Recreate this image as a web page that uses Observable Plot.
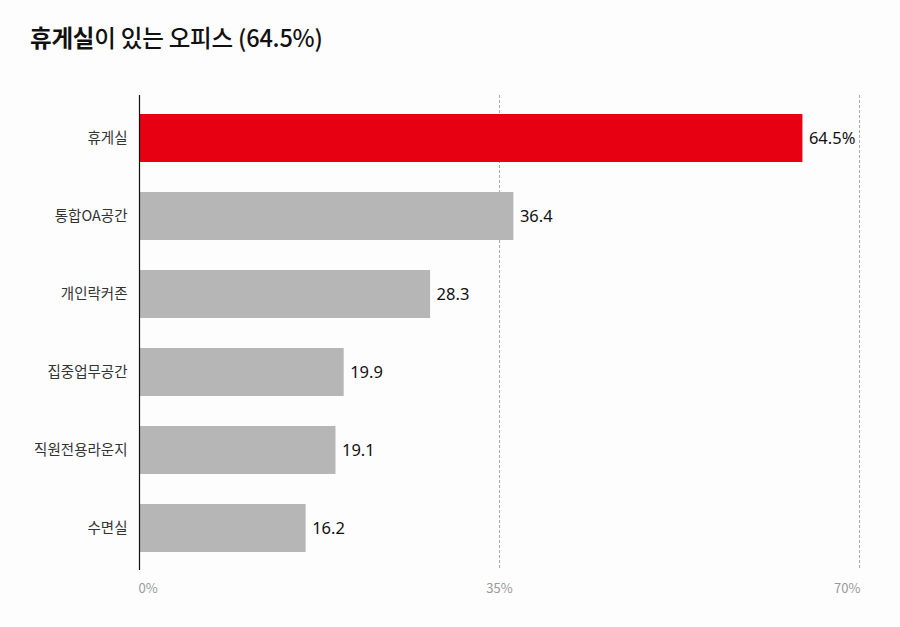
<!DOCTYPE html>
<html>
<head>
<meta charset="utf-8">
<script src="https://cdn.jsdelivr.net/npm/d3@7"></script>
<script src="https://cdn.jsdelivr.net/npm/@observablehq/plot@0.6"></script>
<style>
  html, body { margin: 0; padding: 0; background: #fdfdfd; }
  body { width: 900px; height: 627px; overflow: hidden; font-family: "Noto Sans CJK KR", "Noto Sans", sans-serif; }
  #title { position: absolute; left: 30px; top: 22px; font-size: 23.5px; color: #111; letter-spacing: -0.2px; line-height: 1.3; }
  #title b { font-weight: 700; }
  #title span { font-weight: 500; }
  #chart { position: absolute; left: 0; top: 75px; }
</style>
</head>
<body>
<div id="title"><b>휴게실</b><span>이 있는 오피스 (64.5%)</span></div>
<div id="chart"></div>
<script>
const categories = ["휴게실", "통합OA공간", "개인락커존", "집중업무공간", "직원전용라운지", "수면실"];
const values = [64.5, 36.4, 28.3, 19.9, 19.1, 16.2];
const valueLabels = ["64.5%", "36.4", "28.3", "19.9", "19.1", "16.2"];
const highlight = "휴게실";
const tickValues = [0, 35, 70];
const tickLabels = ["0%", "35%", "70%"];

const data = categories.map((c, i) => ({ category: c, value: values[i], label: valueLabels[i] }));

const chart = Plot.plot({
  width: 900,
  height: 552,
  marginTop: 24,
  marginBottom: 60,
  marginLeft: 139,
  marginRight: 41,
  style: { background: "transparent", fontFamily: "'Noto Sans CJK KR', 'Noto Sans', sans-serif" },
  x: { domain: [0, 70], axis: null },
  y: { domain: categories, paddingInner: 0.385, paddingOuter: 0.1925, label: null },
  marks: [
    Plot.ruleX(tickValues.slice(1), { stroke: "#aaa", strokeDasharray: "3,2", strokeWidth: 1, insetTop: -4, insetBottom: -3 }),
    Plot.barX(data, {
      x: "value", y: "category",
      fill: d => d.category === highlight ? "#e60012" : "#b5b6b5"
    }),
    Plot.ruleX([0], { stroke: "#111", strokeWidth: 1.2, insetTop: -4, insetBottom: -3 }),
    Plot.text(data, {
      x: "value", y: "category", text: "label",
      textAnchor: "start", dx: 6, fontSize: 16.5, fill: "#111",
      fontFamily: "'Noto Sans', sans-serif"
    }),
    Plot.axisY({ tickSize: 0, tickPadding: 12, fontSize: 14.5, color: "#333", label: null }),
    Plot.text([tickValues[0]], { x: d => d, text: [tickLabels[0]], frameAnchor: "bottom", dy: 25, textAnchor: "start", fill: "#999", fontSize: 13, dx: -1 }),
    Plot.text([tickValues[1]], { x: d => d, text: [tickLabels[1]], frameAnchor: "bottom", dy: 25, textAnchor: "middle", fill: "#999", fontSize: 13 }),
    Plot.text([tickValues[2]], { x: d => d, text: [tickLabels[2]], frameAnchor: "bottom", dy: 25, textAnchor: "end", fill: "#999", fontSize: 13, dx: 1 })
  ]
});
document.getElementById("chart").appendChild(chart);
</script>
</body>
</html>
